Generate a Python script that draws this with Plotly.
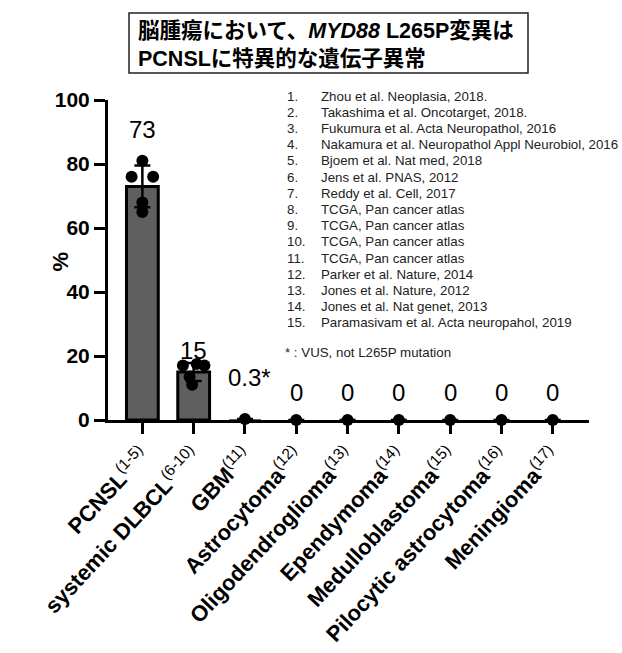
import numpy as np
import plotly.graph_objects as go

# ---------------- data ----------------
categories = ["PCNSL", "systemic DLBCL", "GBM", "Astrocytoma", "Oligodendroglioma",
              "Ependymoma", "Medulloblastoma", "Pilocytic astrocytoma", "Meningioma"]
category_refs = ["(1-5)", "(6-10)", "(11)", "(12)", "(13)", "(14)", "(15)", "(16)", "(17)"]
bar_values = [73, 15, 0.3, 0, 0, 0, 0, 0, 0]
value_labels = ["73", "15", "0.3*", "0", "0", "0", "0", "0", "0"]
dot_values = [
    [81, 76, 76, 68, 65],
    [17, 17.5, 17, 13.5, 11],
    [0.3], [0], [0], [0], [0], [0], [0],
]
dot_offsets = [
    [0.0, -0.21, 0.21, 0.0, 0.0],
    [-0.21, 0.06, 0.21, -0.08, -0.03],
    [0.0], [0.0], [0.0], [0.0], [0.0], [0.0], [0.0],
]
references = [
    "Zhou et al. Neoplasia, 2018.",
    "Takashima et al. Oncotarget, 2018.",
    "Fukumura et al. Acta Neuropathol, 2016",
    "Nakamura et al. Neuropathol Appl Neurobiol, 2016",
    "Bjoem et al. Nat med, 2018",
    "Jens et al. PNAS, 2012",
    "Reddy et al. Cell, 2017",
    "TCGA, Pan cancer atlas",
    "TCGA, Pan cancer atlas",
    "TCGA, Pan cancer atlas",
    "TCGA, Pan cancer atlas",
    "Parker et al. Nature, 2014",
    "Jones et al. Nature, 2012",
    "Jones et al. Nat genet, 2013",
    "Paramasivam et al. Acta neuropahol, 2019",
]
footnote = "* : VUS, not L265P mutation"
title_line1 = "脳腫瘍において、<i>MYD88</i> L265P変異は"
title_line2 = "PCNSLに特異的な遺伝子異常"
y_ticks = [0, 20, 40, 60, 80, 100]

# ---------------- layout geometry (pixels) ----------------
W, H = 622, 653
ML, MR, MT, MB = 108, 33, 100, 233
PW, PH = W - ML - MR, H - MT - MB


def px_x(x):
    return (x - ML) / PW


def px_y(y):
    return (H - MB - y) / PH


xpos = np.arange(len(categories))
sds = [float(np.std(v, ddof=1)) if len(v) > 1 else 0.0 for v in dot_values]
outline_w = [3 if v >= 1 else 0 for v in bar_values]

BASE = "Liberation Sans, Arial, sans-serif"

fig = go.Figure()
fig.add_trace(go.Bar(
    x=xpos, y=bar_values, width=0.62,
    marker=dict(color="#5f5f5f", line=dict(color="black", width=outline_w)),
    error_y=dict(type="data", array=sds, visible=True, color="black",
                 thickness=2.5, width=8),
    showlegend=False, hoverinfo="skip",
))

dx, dy = [], []
for i, (vals, offs) in enumerate(zip(dot_values, dot_offsets)):
    for v, o in zip(vals, offs):
        dx.append(i + o)
        dy.append(v)
fig.add_trace(go.Scatter(
    x=dx, y=dy, mode="markers",
    marker=dict(color="black", size=12, line=dict(width=0)),
    cliponaxis=False, showlegend=False, hoverinfo="skip",
))

# value labels above each group
label_shift = [31, 14, 42, 28, 28, 28, 28, 28, 28]
for i, (txt, vals) in enumerate(zip(value_labels, dot_values)):
    fig.add_annotation(x=i, y=max(vals), xref="x", yref="y", text=txt,
                       showarrow=False, yanchor="middle", yshift=label_shift[i],
                       xshift=5 if "*" in txt else 0,
                       font=dict(family=BASE, size=24, color="black"))

# reference list
for k, ref in enumerate(references):
    ypx = 96 + 16.2 * k
    fig.add_annotation(x=px_x(285), y=px_y(ypx), xref="paper", yref="paper",
                       text=f"{k + 1}.", showarrow=False, xanchor="left", yanchor="middle",
                       font=dict(family=BASE, size=13.3, color="#222"))
    fig.add_annotation(x=px_x(319), y=px_y(ypx), xref="paper", yref="paper",
                       text=ref, showarrow=False, xanchor="left", yanchor="middle",
                       font=dict(family=BASE, size=13.3, color="#222"))
fig.add_annotation(x=px_x(283), y=px_y(352), xref="paper", yref="paper",
                   text=footnote, showarrow=False, xanchor="left", yanchor="middle",
                   font=dict(family=BASE, size=13.3, color="#222"))

# title box
fig.add_shape(type="rect", xref="paper", yref="paper",
              x0=px_x(129), x1=px_x(528), y0=px_y(73), y1=px_y(13),
              line=dict(color="#222", width=1.5), fillcolor="white", layer="below")
fig.add_annotation(x=px_x(136), y=px_y(45), xref="paper", yref="paper",
                   xanchor="left", yanchor="middle",
                   text=f"<b>{title_line1}<br>{title_line2}</b>",
                   showarrow=False, align="left",
                   font=dict(family="Liberation Sans, Noto Sans CJK JP, sans-serif",
                             size=21.5, color="black"))

# y axis title
fig.add_annotation(x=px_x(45), y=px_y(262), xref="paper", yref="paper",
                   text="<b>%</b>", textangle=-90, showarrow=False,
                   font=dict(family=BASE, size=22, color="black"))

ticktext = [f"<b>{c}</b><sup>{r}</sup>" for c, r in zip(categories, category_refs)]

fig.update_layout(
    width=W, height=H, margin=dict(l=ML, r=MR, t=MT, b=MB, autoexpand=False),
    paper_bgcolor="white", plot_bgcolor="white",
    xaxis=dict(range=[-0.67, 8.706], tickmode="array", tickvals=xpos, ticktext=ticktext,
               tickangle=-47, showline=True, linecolor="black", linewidth=3,
               ticks="outside", ticklen=11, tickwidth=3, tickcolor="black",
               showgrid=False, zeroline=False,
               tickfont=dict(family=BASE, size=22, color="black")),
    yaxis=dict(range=[0, 100], tickmode="array", tickvals=y_ticks,
               ticktext=[f"<b>{t}</b>" for t in y_ticks],
               showline=True, linecolor="black", linewidth=3,
               ticks="outside", ticklen=11, tickwidth=3, tickcolor="black",
               showgrid=False, zeroline=False,
               tickfont=dict(family=BASE, size=21, color="black")),
    bargap=0.3,
)

fig.write_html("out.html")
